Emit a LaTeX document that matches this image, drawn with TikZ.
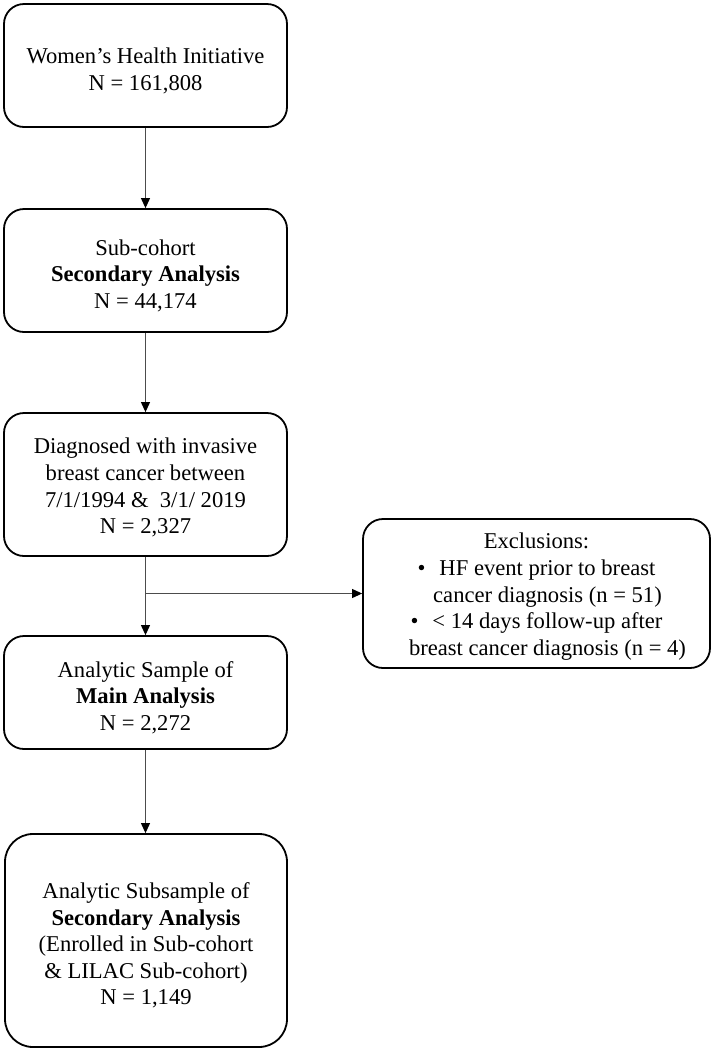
\documentclass[tikz,border=0pt]{standalone}
\usepackage{fontspec}
\setmainfont{Liberation Serif}
\usetikzlibrary{arrows.meta}
\newcommand{\topgap}{\rule{0pt}{26pt}}
\begin{document}
\begin{tikzpicture}[x=1pt,y=-1pt,
  box/.style={draw=black, line width=1.8pt, rounded corners=20pt, align=center,
    inner sep=0pt, font=\fontsize{22.6}{26.6}\selectfont},
  conn/.style={draw=black!70, line width=1pt},
  arr/.style={conn, -{Triangle[length=10pt,width=9pt,fill=black,color=black]}}]
\useasboundingbox (0,0) rectangle (714,1053);
\node[box, minimum width=283pt, minimum height=123pt] (b1) at (145.5,65.5)
  {\topgap Women’s Health Initiative\\N = 161,808};
\node[box, minimum width=283pt, minimum height=123pt] (b2) at (145.5,270.5)
  {\topgap Sub-cohort\\\textbf{Secondary Analysis}\\N = 44,174};
\node[box, minimum width=283pt, minimum height=143pt] (b3) at (145.5,484.5)
  {\rule{0pt}{22pt}Diagnosed with invasive\\breast cancer between\\7/1/1994 \&\ \ 3/1/ 2019\\N = 2,327};
\node[box, minimum width=347pt, minimum height=149pt] (ex) at (536.5,593.5)
  {\rule{0pt}{22pt}Exclusions:\\
   •\hspace{14pt}HF event prior to breast\\
   \hspace*{22pt}cancer diagnosis (n = 51)\\
   •\hspace{14pt}< 14 days follow-up after\\
   \hspace*{22pt}breast cancer diagnosis (n = 4)};
\node[box, minimum width=283pt, minimum height=113pt] (b4) at (145.5,692.5)
  {\topgap Analytic Sample of\\\textbf{Main Analysis}\\N = 2,272};
\node[box, rounded corners=28pt, minimum width=282pt, minimum height=213pt] (b5) at (146,940.5)
  {\topgap Analytic Subsample of\\\textbf{Secondary Analysis}\\(Enrolled in Sub-cohort\\\& LILAC Sub-cohort)\\N = 1,149};
\coordinate (br) at (b3.south |- ex.west);
\draw[arr] (b1.south) -- (b2.north);
\draw[arr] (b2.south) -- (b3.north);
\draw[arr] (b3.south) -- (b4.north);
\draw[arr] (br) -- (ex.west);
\draw[arr] (b4.south) -- (b4.south |- b5.north);
\end{tikzpicture}
\end{document}
